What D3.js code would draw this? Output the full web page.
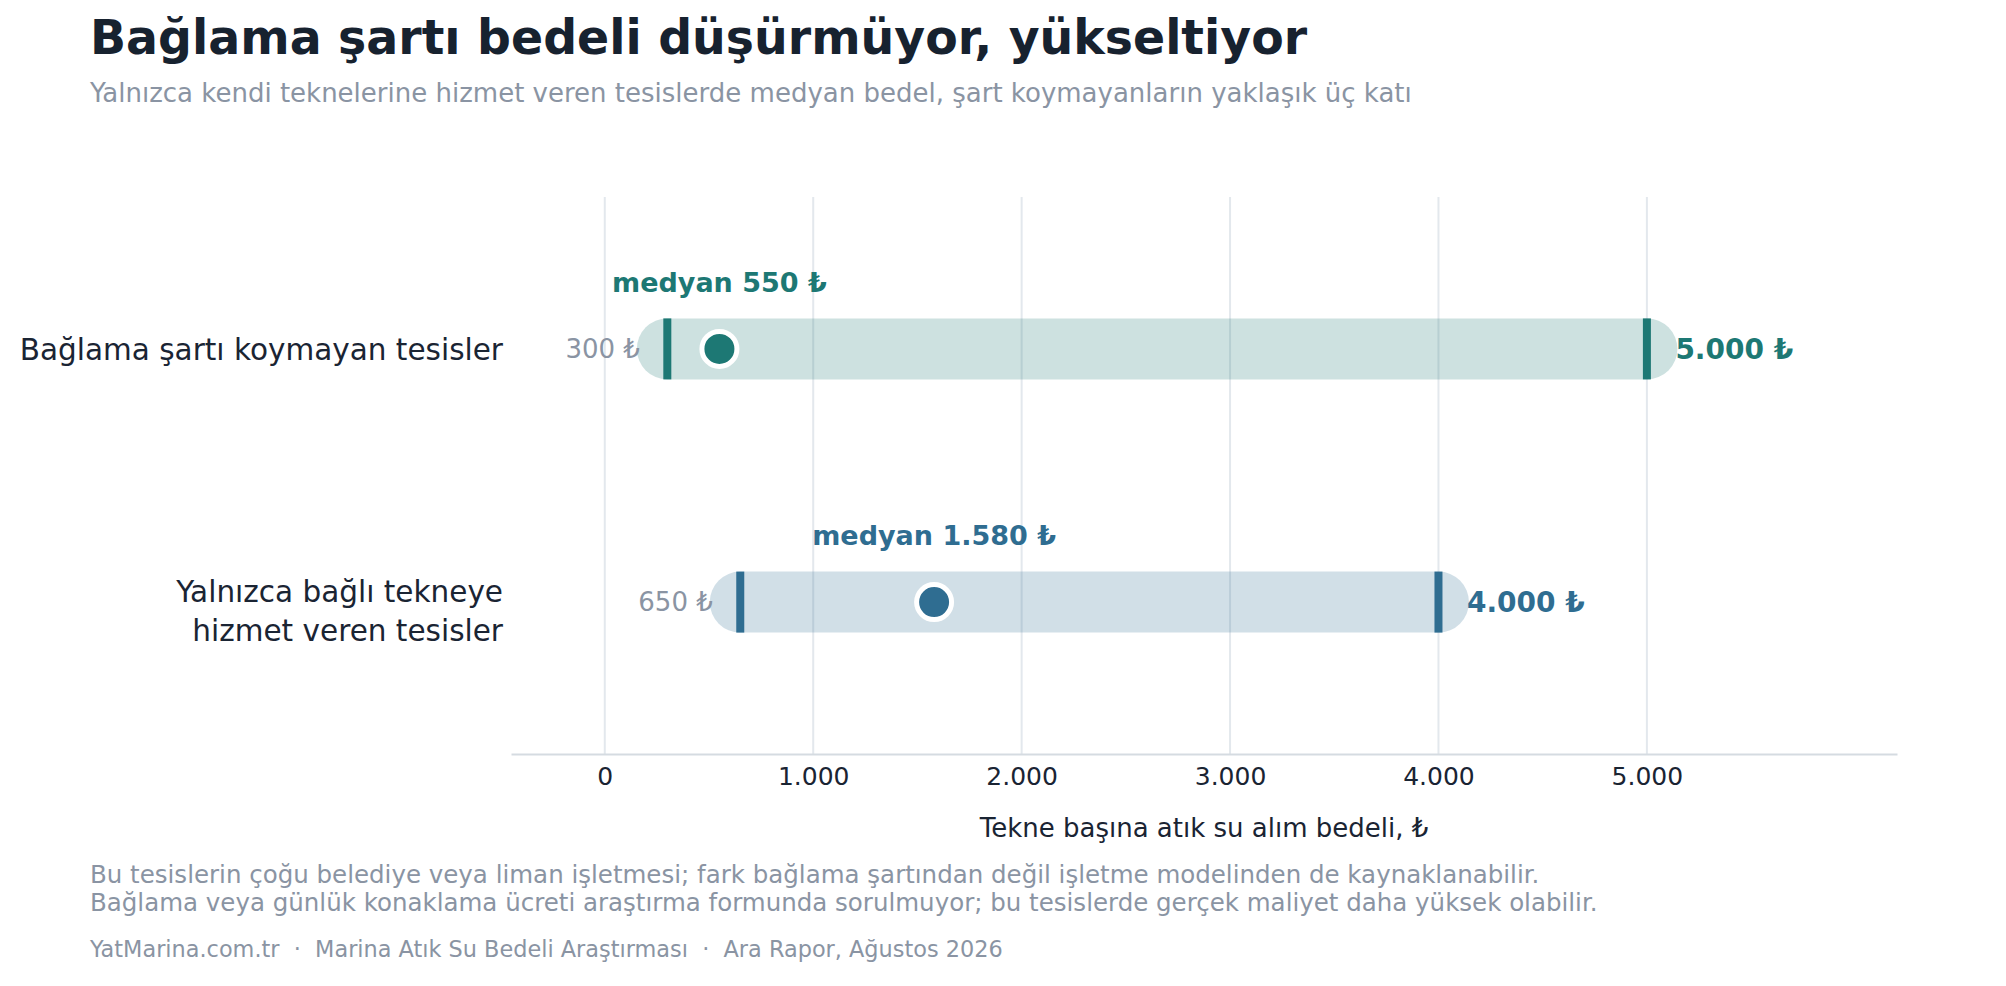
<!DOCTYPE html>
<html>
<head>
<meta charset="utf-8">
<script src="https://cdn.jsdelivr.net/npm/d3@7"></script>
<style>
  body { margin: 0; background: #fff; }
  svg { display: block; font-family: "DejaVu Sans", sans-serif; }
</style>
</head>
<body>
<div id="chart"></div>
<script>
// Data
const categories = ["Bağlama şartı koymayan tesisler", "Yalnızca bağlı tekneye hizmet veren tesisler"];
const categoryLines = [["Bağlama şartı koymayan tesisler"], ["Yalnızca bağlı tekneye", "hizmet veren tesisler"]];
const minValues = [300, 650];
const medianValues = [550, 1580];
const maxValues = [5000, 4000];
const xTicks = [0, 1000, 2000, 3000, 4000, 5000];
const seriesColors = ["#1d7874", "#2f6d91"];

const title = "Bağlama şartı bedeli düşürmüyor, yükseltiyor";
const subtitle = "Yalnızca kendi teknelerine hizmet veren tesislerde medyan bedel, şart koymayanların yaklaşık üç katı";
const xTitle = "Tekne başına atık su alım bedeli, ₺";
const notes = [
  "Bu tesislerin çoğu belediye veya liman işletmesi; fark bağlama şartından değil işletme modelinden de kaynaklanabilir.",
  "Bağlama veya günlük konaklama ücreti araştırma formunda sorulmuyor; bu tesislerde gerçek maliyet daha yüksek olabilir."
];
const source = "YatMarina.com.tr  ·  Marina Atık Su Bedeli Araştırması  ·  Ara Rapor, Ağustos 2026";

const rows = categories.map((c, i) => ({
  category: c,
  lines: categoryLines[i],
  min: minValues[i],
  median: medianValues[i],
  max: maxValues[i],
  color: seriesColors[i]
}));

// Dimensions
const dimensions = {
  width: 2006,
  height: 986,
  plotLeft: 511,
  plotRight: 1897,
  plotTop: 197,
  plotBottom: 754,
  bandHeight: 61
};

const trFormat = d3.formatLocale({ decimal: ",", thousands: ".", grouping: [3], currency: ["", " ₺"] });
const numFmt = trFormat.format(",d");

const svg = d3.select("#chart")
  .append("svg")
  .attr("width", dimensions.width)
  .attr("height", dimensions.height);

// Scales
const xScale = d3.scaleLinear()
  .domain([-450, 6200])
  .range([dimensions.plotLeft, dimensions.plotRight]);

const yScale = d3.scalePoint()
  .domain(categories)
  .range([dimensions.plotTop, dimensions.plotBottom])
  .padding(0.6);

// Titles
svg.append("text")
  .attr("x", 90).attr("y", 54)
  .attr("font-size", 47.4).attr("font-weight", "bold")
  .attr("fill", "#17222f")
  .text(title);

svg.append("text")
  .attr("x", 90).attr("y", 102)
  .attr("font-size", 26)
  .attr("fill", "#8a94a3")
  .text(subtitle);

// Gridlines
svg.append("g")
  .selectAll("line")
  .data(xTicks)
  .join("line")
  .attr("x1", (d) => xScale(d)).attr("x2", (d) => xScale(d))
  .attr("y1", dimensions.plotTop).attr("y2", dimensions.plotBottom)
  .attr("stroke", "#e3e8ed")
  .attr("stroke-width", 2);

// X axis
const xAxis = d3.axisBottom(xScale)
  .tickValues(xTicks)
  .tickFormat(numFmt)
  .tickSize(0)
  .tickPadding(13);

const axisG = svg.append("g")
  .attr("transform", `translate(0, ${dimensions.plotBottom})`)
  .call(xAxis);

axisG.select(".domain").attr("stroke", "#d5dbe1").attr("stroke-width", 2);
axisG.selectAll(".tick text")
  .attr("font-size", 25)
  .attr("font-family", "DejaVu Sans")
  .attr("fill", "#1a2433");

svg.append("text")
  .attr("x", (dimensions.plotLeft + dimensions.plotRight) / 2)
  .attr("y", 837)
  .attr("text-anchor", "middle")
  .attr("font-size", 26)
  .attr("fill", "#1a2433")
  .text(xTitle);

// Category labels
const labelG = svg.append("g")
  .selectAll("text")
  .data(rows)
  .join("text")
  .attr("x", 503)
  .attr("y", (d) => yScale(d.category))
  .attr("text-anchor", "end")
  .attr("font-size", 29.5)
  .attr("fill", "#1a2433");

labelG.selectAll("tspan")
  .data((d) => d.lines.map((l, i) => ({ text: l, i, n: d.lines.length })))
  .join("tspan")
  .attr("x", 503)
  .attr("dy", (d) => d.i === 0 ? `${0.38 - (d.n - 1) * 0.4}em` : "1.34em")
  .text((d) => d.text);

// Range bands
const rowG = svg.append("g")
  .selectAll("g")
  .data(rows)
  .join("g")
  .attr("transform", (d) => `translate(0, ${yScale(d.category)})`);

rowG.append("line")
  .attr("x1", (d) => xScale(d.min))
  .attr("x2", (d) => xScale(d.max))
  .attr("stroke", (d) => d.color)
  .attr("stroke-opacity", 0.22)
  .attr("stroke-width", dimensions.bandHeight)
  .attr("stroke-linecap", "round");

// End ticks
rowG.selectAll("rect.end")
  .data((d) => [d.min, d.max].map((v) => ({ v, color: d.color })))
  .join("rect")
  .attr("class", "end")
  .attr("x", (d) => xScale(d.v) - 4)
  .attr("y", -dimensions.bandHeight / 2)
  .attr("width", 8)
  .attr("height", dimensions.bandHeight)
  .attr("fill", (d) => d.color);

// Median dots
rowG.append("circle")
  .attr("cx", (d) => xScale(d.median))
  .attr("r", 17.5)
  .attr("fill", (d) => d.color)
  .attr("stroke", "#fff")
  .attr("stroke-width", 5);

// Median labels
rowG.append("text")
  .attr("x", (d) => xScale(d.median))
  .attr("y", -dimensions.bandHeight / 2 - 26.5)
  .attr("text-anchor", "middle")
  .attr("font-size", 27)
  .attr("font-weight", "bold")
  .attr("fill", (d) => d.color)
  .text((d) => `medyan ${numFmt(d.median)} ₺`);

// Min labels
rowG.append("text")
  .attr("x", (d) => xScale(d.min) - dimensions.bandHeight / 2 + 3)
  .attr("dy", "0.33em")
  .attr("text-anchor", "end")
  .attr("font-size", 26)
  .attr("fill", "#8a94a3")
  .text((d) => `${numFmt(d.min)} ₺`);

// Max labels
rowG.append("text")
  .attr("x", (d) => xScale(d.max) + dimensions.bandHeight / 2 - 2)
  .attr("dy", "0.35em")
  .attr("font-size", 28)
  .attr("font-weight", "bold")
  .attr("fill", (d) => d.color)
  .text((d) => `${numFmt(d.max)} ₺`);

// Notes
svg.append("g")
  .selectAll("text")
  .data(notes)
  .join("text")
  .attr("x", 90)
  .attr("y", (d, i) => 883 + i * 28)
  .attr("font-size", 24.5)
  .attr("fill", "#8a94a3")
  .text((d) => d);

svg.append("text")
  .attr("x", 90).attr("y", 957)
  .attr("font-size", 22.4)
  .attr("fill", "#8a94a3")
  .style("white-space", "pre")
  .text(source);
</script>
</body>
</html>
